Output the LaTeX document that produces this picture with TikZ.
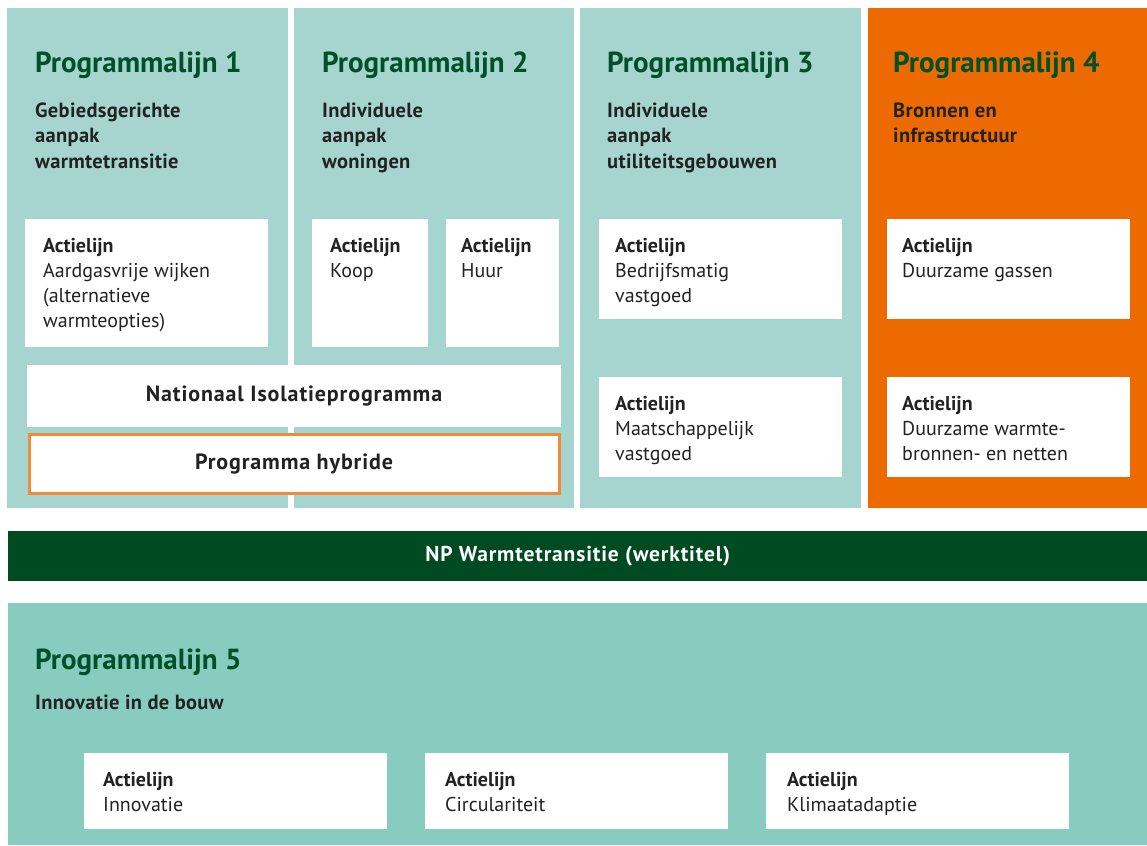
\documentclass[tikz,border=0pt]{standalone}
\usepackage{fontspec}
\setmainfont{PT Sans}
\usetikzlibrary{positioning}
\definecolor{pmlteal}{HTML}{A5D5CE}
\definecolor{pmlfive}{HTML}{88CBBF}
\definecolor{pmlorange}{HTML}{EC6A00}
\definecolor{hybrideorange}{HTML}{F08A3C}
\definecolor{npgreen}{HTML}{004A21}
\definecolor{titlegreen}{HTML}{00502A}
\definecolor{inkdark}{HTML}{222222}
\begin{document}
\begin{tikzpicture}[x=1pt,y=-1pt,
  col/.style={fill=pmlteal, inner sep=0, anchor=north west},
  box/.style={fill=white, inner sep=0, anchor=north west},
  ttl/.style={anchor=base west, inner sep=0, text=titlegreen, font=\fontsize{29}{30}\selectfont\bfseries},
  sub/.style={anchor=north west, inner sep=0, align=left, text=inkdark, font=\fontsize{20.5}{25.5}\selectfont\bfseries\addfontfeature{LetterSpace=1.5}},
  lbl/.style={anchor=north west, inner sep=0, align=left, text=inkdark, font=\fontsize{20}{25}\selectfont},
  wide/.style={font=\fontsize{22}{24}\selectfont\bfseries\addfontfeature{LetterSpace=4}, text=inkdark}]
\useasboundingbox (0,0) rectangle (1147,845);
% programmalijnen 1-4
\node[col, minimum width=281, minimum height=500] (pl1) at (7,8) {};
\node[col, minimum width=280, minimum height=500] (pl2) at (294,8) {};
\node[col, minimum width=281, minimum height=500] (pl3) at (580,8) {};
\node[col, fill=pmlorange, minimum width=279, minimum height=500] (pl4) at (868,8) {};
\node[ttl] (t1) at (35,73) {Programmalijn 1};
\node[ttl] (t2) at (322,73) {Programmalijn 2};
\node[ttl] (t3) at (607,73) {Programmalijn 3};
\node[ttl] (t4) at (893,73) {Programmalijn 4};
\node[sub] (s1) at (35,99) {\strut Gebiedsgerichte\\aanpak\\warmtetransitie};
\node[sub] (s2) at (322,99) {\strut Individuele\\aanpak\\woningen};
\node[sub] (s3) at (607,99) {\strut Individuele\\aanpak\\utiliteitsgebouwen};
\node[sub] (s4) at (893,99) {\strut Bronnen en\\infrastructuur};
% actielijnen
\node[box, minimum width=243, minimum height=128] (a1) at (25,219) {};
\node[box, minimum width=116, minimum height=128] (a2) at (312,219) {};
\node[box, minimum width=113, minimum height=128] (a3) at (446,219) {};
\node[box, minimum width=243, minimum height=100] (a4) at (599,219) {};
\node[box, minimum width=243, minimum height=100] (a5) at (599,377) {};
\node[box, minimum width=243, minimum height=100] (a6) at (887,219) {};
\node[box, minimum width=243, minimum height=100] (a7) at (887,377) {};
\node[lbl] at ([shift={(18,15.5)}]a1.north west) {\strut\textbf{Actielijn}\\Aardgasvrije wijken\\(alternatieve\\warmteopties)};
\node[lbl] at ([shift={(18,15.5)}]a2.north west) {\strut\textbf{Actielijn}\\Koop};
\node[lbl] at ([shift={(15,15.5)}]a3.north west) {\strut\textbf{Actielijn}\\Huur};
\node[lbl] at ([shift={(16,15.5)}]a4.north west) {\strut\textbf{Actielijn}\\Bedrijfsmatig\\vastgoed};
\node[lbl] at ([shift={(16,15.5)}]a5.north west) {\strut\textbf{Actielijn}\\Maatschappelijk\\vastgoed};
\node[lbl] at ([shift={(15,15.5)}]a6.north west) {\strut\textbf{Actielijn}\\Duurzame gassen};
\node[lbl] at ([shift={(15,15.5)}]a7.north west) {\strut\textbf{Actielijn}\\Duurzame warmte-\\bronnen- en netten};
% brede programma's
\node[box, wide, anchor=center, minimum width=534, minimum height=62] (iso) at (294,396) {Nationaal Isolatieprogramma};
\node[box, wide, anchor=center, draw=hybrideorange, line width=3pt, minimum width=530, minimum height=59] (hyb) at (294,464) {Programma hybride};
% NP balk
\node[fill=npgreen, text=white, inner sep=0, anchor=north west, minimum width=1139, minimum height=50,
  font=\fontsize{21.5}{24}\selectfont\bfseries\addfontfeature{LetterSpace=4}] (np) at (8,531) {NP Warmtetransitie (werktitel)};
% programmalijn 5
\node[col, fill=pmlfive, minimum width=1139, minimum height=242] (pl5) at (8,603) {};
\node[ttl] (t5) at (35,669) {Programmalijn 5};
\node[sub, anchor=base west] (s5) at (35,709) {Innovatie in de bouw};
\node[box, minimum width=303, minimum height=76] (b1) at (84,753) {};
\node[box, minimum width=303, minimum height=76] (b2) at (425,753) {};
\node[box, minimum width=303, minimum height=76] (b3) at (766,753) {};
\node[lbl] at ([shift={(19,15.5)}]b1.north west) {\strut\textbf{Actielijn}\\Innovatie};
\node[lbl] at ([shift={(20,15.5)}]b2.north west) {\strut\textbf{Actielijn}\\Circulariteit};
\node[lbl] at ([shift={(21,15.5)}]b3.north west) {\strut\textbf{Actielijn}\\Klimaatadaptie};
\end{tikzpicture}
\end{document}
